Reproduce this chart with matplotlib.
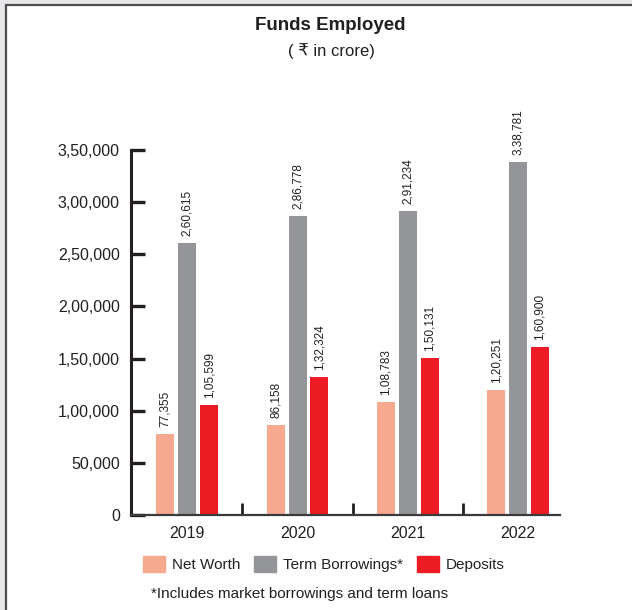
import matplotlib.pyplot as plt
import matplotlib.patches as mpatches
import numpy as np

plt.rcParams['font.family'] = ['Liberation Sans', 'DejaVu Sans']

years = ["2019", "2020", "2021", "2022"]
net_worth = [77355, 86158, 108783, 120251]
term_borrowings = [260615, 286778, 291234, 338781]
deposits = [105599, 132324, 150131, 160900]

series = [
    ("Net Worth", net_worth, "#F7A98F"),
    ("Term Borrowings*", term_borrowings, "#939598"),
    ("Deposits", deposits, "#ED1C24"),
]
yticks = [0, 50000, 100000, 150000, 200000, 250000, 300000, 350000]


def indian(n):
    # lakh/crore style digit grouping: 3,38,781
    s = str(int(n))
    if len(s) <= 3:
        return s
    head, tail = s[:-3], s[-3:]
    groups = []
    while len(head) > 2:
        groups.insert(0, head[-2:])
        head = head[:-2]
    if head:
        groups.insert(0, head)
    return ",".join(groups + [tail])


fig = plt.figure(figsize=(6.32, 6.10), dpi=100)

# grey page margin and dark frame line
fig.patches.append(mpatches.Rectangle((0, 0), 1, 1, transform=fig.transFigure,
                                      facecolor="#E6E7E8", edgecolor="none", zorder=-3))
fig.patches.append(mpatches.Rectangle((6 / 632, -0.01), 1.0, 1 - 5 / 610 + 0.01,
                                      transform=fig.transFigure, facecolor="white",
                                      edgecolor="#4D4D4F", linewidth=1.6, zorder=-2))

ax = fig.add_axes([131 / 632, 1 - 515 / 610, (560 - 131) / 632, (515 - 150) / 610])
ax.set_facecolor("none")

x = np.arange(len(years))
width = 0.163
step = 0.199
for i, (name, vals, color) in enumerate(series):
    pos = x + (i - 1) * step
    ax.bar(pos, vals, width, color=color, label=name)
    for px, v in zip(pos, vals):
        ax.annotate(indian(v), (px, v), xytext=(0, 5), textcoords="offset points",
                    rotation=90, ha="center", va="bottom", fontsize=8.5,
                    color="#231F20", annotation_clip=False)

ax.set_xlim(-0.51, 3.38)
ax.set_ylim(0, 350000)
ax.set_yticks(yticks)
ax.set_yticklabels([indian(v) for v in yticks])
ax.set_xticks(x)
ax.set_xticklabels(years)
ax.set_xticks([0.5, 1.5, 2.5], minor=True)

ax.tick_params(axis="y", direction="in", length=10, width=2.4, color="#231F20",
               labelsize=11.5, labelcolor="#231F20", pad=8)
ax.tick_params(axis="x", which="major", length=0, labelsize=11.5,
               labelcolor="#231F20", pad=8)
ax.tick_params(axis="x", which="minor", direction="in", length=9, width=2,
               color="#231F20")

for side in ("top", "right"):
    ax.spines[side].set_visible(False)
ax.spines["left"].set_linewidth(2.2)
ax.spines["left"].set_color("#231F20")
ax.spines["bottom"].set_linewidth(1.6)
ax.spines["bottom"].set_color("#3A3A3C")

fig.text(330 / 632, 1 - 25 / 610, "Funds Employed", ha="center", va="center",
         fontsize=13.5, fontweight="bold", color="#231F20")
fig.text(331 / 632, 1 - 51 / 610, "( \u20b9 in crore)", ha="center", va="center",
         fontsize=12, color="#231F20")

handles = [mpatches.Patch(color=c, label=n) for n, _, c in series]
fig.legend(handles=handles, loc="center", bbox_to_anchor=(324 / 632, 1 - 564 / 610),
           ncol=3, frameon=False, fontsize=11, handlelength=1.45, handleheight=1.25,
           handletextpad=0.45, columnspacing=0.9, labelcolor="#231F20")

fig.text(300 / 632, 1 - 594 / 610, "*Includes market borrowings and term loans",
         ha="center", va="center", fontsize=11, color="#231F20")

fig.savefig("out.png", dpi=100)
